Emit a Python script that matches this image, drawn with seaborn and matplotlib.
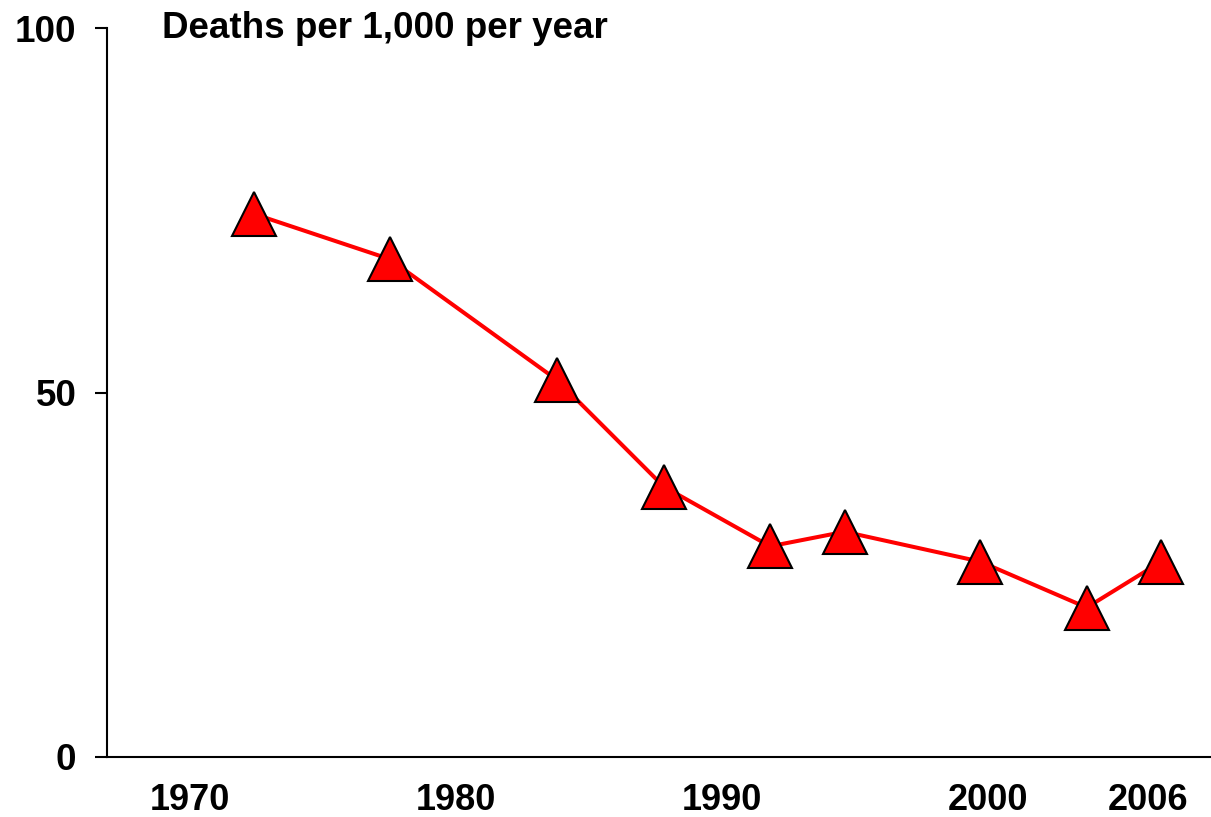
import pandas as pd
import matplotlib
matplotlib.use("Agg")
import matplotlib.pyplot as plt
import seaborn as sns

# Data
years = [1972.4, 1977.5, 1983.8, 1987.8, 1991.8, 1994.6, 1999.7, 2003.7, 2006.5]
deaths = [74.5, 68.3, 51.7, 37.1, 28.9, 30.9, 26.8, 20.5, 26.8]
tick_years = [1970, 1980, 1990, 2000, 2006]
y_ticks = [0, 50, 100]
title_text = "Deaths per 1,000 per year"

df = pd.DataFrame({"Year": years, "Deaths": deaths})

sns.set_style("ticks")
plt.rcParams["font.family"] = ["Liberation Sans", "DejaVu Sans"]
plt.rcParams["text.color"] = "black"
plt.rcParams["xtick.color"] = "black"
plt.rcParams["ytick.color"] = "black"
plt.rcParams["axes.labelcolor"] = "black"

W, H = 1211, 817
fig = plt.figure(figsize=(W / 100, H / 100), dpi=100)
ax = fig.add_axes([107 / W, 1 - 757 / H, (W - 107) / W, (757 - 28) / H])

sns.lineplot(data=df, x="Year", y="Deaths", ax=ax, color="#ff0000",
             linewidth=2.9, marker="^", markersize=32,
             markerfacecolor="#ff0000", markeredgecolor="black",
             markeredgewidth=1.5)

ax.set_xlim(1966.88, 2008.37)
ax.set_ylim(0, 100)
ax.set_xticks(tick_years)
ax.set_xticklabels([str(t) for t in tick_years])
ax.set_yticks(y_ticks)
ax.set_yticklabels([str(t) for t in y_ticks])

for s in ["top", "right"]:
    ax.spines[s].set_visible(False)
for s in ["left", "bottom"]:
    ax.spines[s].set_linewidth(1.5)
    ax.spines[s].set_color("black")

ax.tick_params(axis="y", length=9, width=1.5, pad=13, labelsize=26.5,
               colors="black")
ax.tick_params(axis="x", length=0, pad=19, labelsize=26, colors="black")
for lab in ax.get_xticklabels() + ax.get_yticklabels():
    lab.set_fontweight("bold")

ax.set_xlabel("")
ax.set_ylabel("")

ax.text((162 - 107) / (W - 107), 1.0, title_text, transform=ax.transAxes,
        ha="left", va="center", fontsize=26.5, fontweight="bold",
        color="black")

fig.savefig("out.png", dpi=100)
